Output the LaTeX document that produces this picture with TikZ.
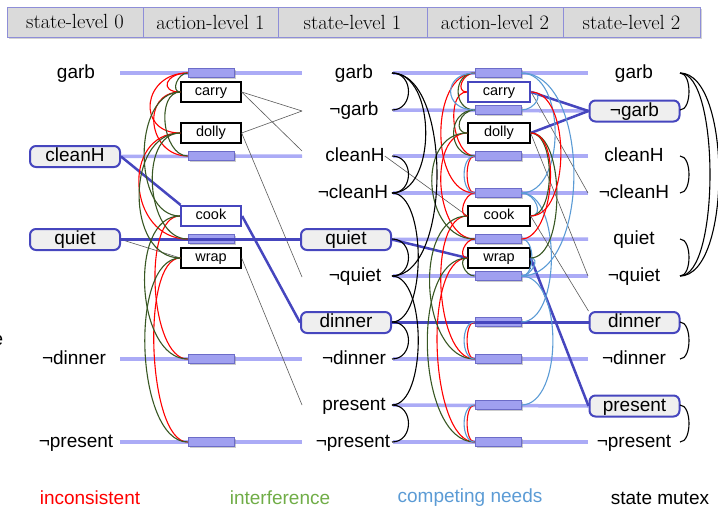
\documentclass[tikz,border=0pt]{standalone}
\usepackage{fontspec}
\newfontfamily\lsans{Liberation Sans}
\usetikzlibrary{shadows,calc}
\pgfdeclarelayer{bg}\pgfsetlayers{bg,main}
\definecolor{hdrf}{HTML}{DADADA}
\definecolor{hdrb}{HTML}{8E8ED8}
\definecolor{lvlc}{HTML}{ABABF6}
\definecolor{noopf}{HTML}{A0A0F0}
\definecolor{noopb}{HTML}{6C6CC8}
\definecolor{dblue}{HTML}{4646BE}
\definecolor{boxf}{HTML}{EFEFEF}
\definecolor{dgreen}{HTML}{385723}
\definecolor{lgreen}{HTML}{70AD47}
\definecolor{lblue}{HTML}{5B9BD5}
\definecolor{thinc}{HTML}{5A5A5A}
\newcommand\mxL[4]{\draw[#1] (#2) .. controls +(-#4,0) and +(-#4,0) .. (#3);}
\newcommand\mxR[4]{\draw[#1] (#2) .. controls +(#4,0) and +(#4,0) .. (#3);}
\tikzset{
  hdr/.style={draw=hdrb, fill=hdrf, line width=0.8pt, minimum height=30pt, inner sep=0pt,
    font=\fontsize{20.5}{22}\selectfont, drop shadow={shadow xshift=1.5pt, shadow yshift=-2pt, opacity=0.35}},
  lbl/.style={font=\lsans\fontsize{19}{22}\selectfont, inner sep=0pt, text height=14pt, text depth=4pt},
  sbox/.style={lbl, draw=dblue, line width=2pt, fill=boxf, rounded corners=6pt, minimum width=90pt, minimum height=21pt},
  abox/.style={draw=black, line width=1.3pt, fill=white, minimum width=60pt, minimum height=20pt, inner sep=0pt,
    font=\lsans\fontsize{14.5}{16}\selectfont, text height=10.5pt, text depth=3pt},
  abbox/.style={abox, draw=dblue, line width=2.2pt},
  noop/.style={draw=noopb, fill=noopf, line width=0.8pt, minimum width=46pt, minimum height=9pt, inner sep=0pt,
    drop shadow={shadow xshift=1.5pt, shadow yshift=-1.5pt, opacity=0.4}},
  lvl/.style={draw=lvlc, line width=3.5pt},
  blu/.style={draw=dblue, line width=2.5pt},
  thn/.style={draw=thinc, line width=0.6pt},
  mtx/.style={draw=black, line width=1.1pt},
  rd/.style={draw=red, line width=1.1pt},
  gn/.style={draw=dgreen, line width=1.1pt},
  lb/.style={draw=lblue, line width=1.1pt},
  leg/.style={font=\lsans\fontsize{19}{22}\selectfont, inner sep=0pt}
}
\begin{document}
\begin{tikzpicture}[x=1pt,y=-1pt]
\useasboundingbox (0,0) rectangle (718,509);
% header
\node[hdr, minimum width=136pt] (h1) at (75,22) {state-level 0};
\node[hdr, minimum width=135pt] (h2) at (210.5,22) {action-level 1};
\node[hdr, minimum width=149pt] (h3) at (352.5,22) {state-level 1};
\node[hdr, minimum width=136pt] (h4) at (495,22) {action-level 2};
\node[hdr, minimum width=137pt] (h5) at (631.5,22) {state-level 2};
% cut-off letter at left edge
\node[lbl] (cut) at (-2,340) {e};
% state level 0
\node[lbl] (s0garb) at (76,73) {garb};
\node[sbox] (s0cleanH) at (75,156.5) {cleanH};
\node[sbox] (s0quiet) at (75,239.5) {quiet};
\node[lbl] (s0ndinner) at (74,359) {¬dinner};
\node[lbl] (s0npresent) at (76,442) {¬present};
% state level 1
\node[lbl] (s1garb) at (354,73) {garb};
\node[lbl] (s1ngarb) at (354,110) {¬garb};
\node[lbl] (s1cleanH) at (355,156) {cleanH};
\node[lbl] (s1ncleanH) at (353,193) {¬cleanH};
\node[sbox] (s1quiet) at (346,239.5) {quiet};
\node[lbl] (s1nquiet) at (355,276) {¬quiet};
\node[sbox] (s1dinner) at (346,322.5) {dinner};
\node[lbl] (s1ndinner) at (354,359) {¬dinner};
\node[lbl] (s1present) at (354,405) {present};
\node[lbl] (s1npresent) at (353,442) {¬present};
% state level 2
\node[lbl] (s2garb) at (634,73) {garb};
\node[sbox] (s2ngarb) at (634.5,111) {¬garb};
\node[lbl] (s2cleanH) at (634,156) {cleanH};
\node[lbl] (s2ncleanH) at (634,193) {¬cleanH};
\node[lbl] (s2quiet) at (634,239) {quiet};
\node[lbl] (s2nquiet) at (634,276) {¬quiet};
\node[sbox] (s2dinner) at (634.5,322.5) {dinner};
\node[lbl] (s2ndinner) at (634,359) {¬dinner};
\node[sbox] (s2present) at (634.5,406) {present};
\node[lbl] (s2npresent) at (634,442) {¬present};
% coordinates for level lines and mutex ends
\foreach \n/\y in {garb/73,ngarb/110,cleanH/156,ncleanH/193,quiet/239,nquiet/276,dinner/322,ndinner/359,present/405,npresent/442}{
  \coordinate (m1\n) at (392,\y);
  \coordinate (a1\n) at (393,\y);
  \coordinate (b1\n) at (588,\y);
  \coordinate (m2\n) at (680,\y);
}
\coordinate (a0garb) at (120,73);
\coordinate (b0garb) at (302,73);
\coordinate (b0cleanH) at (302,156);
\coordinate (a0ndinner) at (120,359);
\coordinate (b0ndinner) at (302,359);
\coordinate (a0npresent) at (120,442);
\coordinate (b0npresent) at (302,442);
\coordinate (t1ngarb) at (302,111);
\coordinate (t1ncleanH) at (302,151);
\coordinate (t1nquiet) at (302,277);
\coordinate (t1present) at (302,405);
% level lines (background)
\begin{pgfonlayer}{bg}
\draw[lvl] (a0garb) -- (b0garb);
\draw[lvl] (s0cleanH.east) -- (b0cleanH);
\draw[lvl] (a0ndinner) -- (b0ndinner);
\draw[lvl] (a0npresent) -- (b0npresent);
\foreach \n in {garb,cleanH,ncleanH,nquiet,ndinner,npresent}{\draw[lvl] (a1\n) -- (b1\n);}
\draw[lvl] (a1ngarb) -- (s2ngarb.west);
\draw[lvl] (s1quiet.east) -- (b1quiet);
\draw[lvl] (a1present) -- (s2present.west);
\end{pgfonlayer}
% action level 1
\node[noop] (n1garb) at (211,73) {};
\node[noop] (n1cleanH) at (211,156) {};
\node[noop] (n1quiet) at (211,239) {};
\node[noop] (n1ndinner) at (211,359) {};
\node[noop] (n1npresent) at (211,442) {};
\node[abox] (carry1) at (211,92) {carry};
\node[abox] (dolly1) at (211,133) {dolly};
\node[abbox] (cook1) at (211,216) {cook};
\node[abox] (wrap1) at (211,258) {wrap};
% action level 2
\foreach \n/\y in {garb/73,ngarb/110,cleanH/156,ncleanH/193,quiet/239,nquiet/276,dinner/322,ndinner/359,present/405,npresent/442}{
  \node[noop] (n2\n) at (498,\y) {};
}
\node[abbox, minimum width=62pt] (carry2) at (499,92) {carry};
\node[abox, minimum width=62pt] (dolly2) at (499,133) {dolly};
\node[abox, minimum width=62pt] (cook2) at (499,216) {cook};
\node[abox, minimum width=62pt] (wrap2) at (499,258) {wrap};
% thin gray lines
\draw[thn] (carry1.east) -- (t1ngarb);
\draw[thn] (carry1.east) -- (t1ncleanH);
\draw[thn] (dolly1.east) -- (t1ngarb);
\draw[thn] (dolly1.east) -- (t1nquiet);
\draw[thn] (s0quiet.east) -- (wrap1.west);
\draw[thn] (wrap1.east) -- (t1present);
\draw[thn] (s1cleanH.east) -- (cook2.west);
\draw[thn] (carry2.east) -- (b1ncleanH);
\draw[thn] (dolly2.east) -- (b1nquiet);
\draw[thn] (cook2.east) -- (s2dinner.north west);
% dark blue lines
\draw[blu] (s0cleanH.east) -- (cook1.160);
\draw[blu] (s0quiet.east) -- (s1quiet.west);
\draw[blu] (cook1.east) -- (s1dinner.west);
\draw[blu] (s1quiet.east) -- (wrap2.west);
\draw[blu] (s1dinner.east) -- (s2dinner.west);
\draw[blu] (carry2.east) -- (s2ngarb.west);
\draw[blu] (dolly2.east) -- (s2ngarb.west);
\draw[blu] (wrap2.east) -- (s2present.west);
% mutex level 1 (left of action level 1)
\mxL{rd}{n1garb.west}{carry1.west}{22}
\mxL{rd}{n1garb.west}{dolly1.west}{45}
\mxL{rd}{carry1.west}{n1cleanH.west}{40}
\mxL{rd}{dolly1.west}{n1quiet.west}{60}
\mxL{rd}{cook1.west}{n1ndinner.west}{38}
\mxL{rd}{wrap1.west}{n1npresent.west}{40}
\mxL{gn}{n1garb.west}{carry1.west}{10}
\mxL{gn}{carry1.west}{n1cleanH.west}{25}
\mxL{gn}{carry1.west}{cook1.west}{48}
\mxL{gn}{dolly1.west}{n1quiet.west}{42}
\mxL{gn}{dolly1.west}{wrap1.west}{55}
\mxL{gn}{cook1.west}{n1ndinner.west}{52}
\mxL{gn}{wrap1.west}{n1npresent.west}{52}
% mutex level 2, left side
\mxL{rd}{n2garb.west}{carry2.west}{12}
\mxL{rd}{n2garb.west}{n2ncleanH.west}{45}
\mxL{rd}{carry2.west}{n2cleanH.west}{22}
\mxL{rd}{dolly2.west}{n2quiet.west}{40}
\mxL{rd}{n2cleanH.west}{n2ncleanH.west}{10}
\mxL{rd}{n2ncleanH.west}{cook2.west}{10}
\mxL{rd}{cook2.west}{n2ndinner.west}{40}
\mxL{rd}{n2quiet.west}{wrap2.west}{10}
\mxL{rd}{wrap2.west}{n2npresent.west}{45}
\mxL{rd}{n2dinner.west}{n2ndinner.west}{10}
\mxL{rd}{n2present.west}{n2npresent.west}{10}
\mxL{gn}{n2garb.west}{n2ngarb.west}{22}
\mxL{gn}{n2ngarb.west}{dolly2.west}{15}
\mxL{gn}{n2ngarb.west}{n2cleanH.west}{28}
\mxL{gn}{dolly2.west}{n2quiet.west}{52}
\mxL{gn}{cook2.west}{n2ndinner.west}{55}
\mxL{gn}{wrap2.west}{n2npresent.west}{58}
\mxL{gn}{wrap2.west}{n2nquiet.west}{10}
\mxL{lb}{n2garb.west}{n2ngarb.west}{32}
\mxL{lb}{n2cleanH.west}{n2ncleanH.west}{14}
\mxL{lb}{n2dinner.west}{n2ndinner.west}{14}
\mxL{lb}{n2present.west}{n2npresent.west}{14}
% mutex level 2, right side
\mxR{lb}{n2garb.east}{n2ncleanH.east}{45}
\mxR{lb}{n2garb.east}{n2nquiet.east}{70}
\mxR{lb}{carry2.east}{n2ngarb.east}{14}
\mxR{lb}{n2ncleanH.east}{cook2.east}{14}
\mxR{lb}{n2ncleanH.east}{n2dinner.east}{40}
\mxR{lb}{n2quiet.east}{n2nquiet.east}{14}
\mxR{lb}{wrap2.east}{n2nquiet.east}{10}
\mxR{lb}{n2nquiet.east}{n2present.east}{42}
\mxR{gn}{dolly2.east}{cook2.east}{25}
\mxR{gn}{dolly2.east}{wrap2.east}{35}
\mxR{rd}{carry2.east}{cook2.east}{40}
\mxR{rd}{dolly2.east}{n2quiet.east}{32}
% state mutex level 1
\mxR{mtx}{m1garb}{m1ngarb}{22}
\mxR{mtx}{m1garb}{m1ncleanH}{45}
\mxR{mtx}{m1garb}{m1nquiet}{60}
\mxR{mtx}{m1cleanH}{m1ncleanH}{22}
\mxR{mtx}{m1ncleanH}{m1dinner}{35}
\mxR{mtx}{m1quiet}{m1nquiet}{22}
\mxR{mtx}{m1nquiet}{m1present}{35}
\mxR{mtx}{m1dinner}{m1ndinner}{22}
\mxR{mtx}{m1present}{m1npresent}{22}
% state mutex level 2
\mxR{mtx}{m2garb}{m2ngarb}{12}
\mxR{mtx}{m2garb}{m2nquiet}{40}
\mxR{mtx}{m2garb}{m2nquiet}{52}
\mxR{mtx}{m2cleanH}{m2ncleanH}{12}
\mxR{mtx}{m2quiet}{m2nquiet}{12}
\mxR{mtx}{m2dinner}{m2ndinner}{12}
\mxR{mtx}{m2present}{m2npresent}{12}
% legend
\node[leg, text=red] (l1) at (90,498) {inconsistent};
\node[leg, text=lgreen] (l2) at (280,498) {interference};
\node[leg, text=lblue] (l3) at (470,498) {competing needs};
\node[leg, text=black] (l4) at (660,498) {state mutex};
\end{tikzpicture}
\end{document}
